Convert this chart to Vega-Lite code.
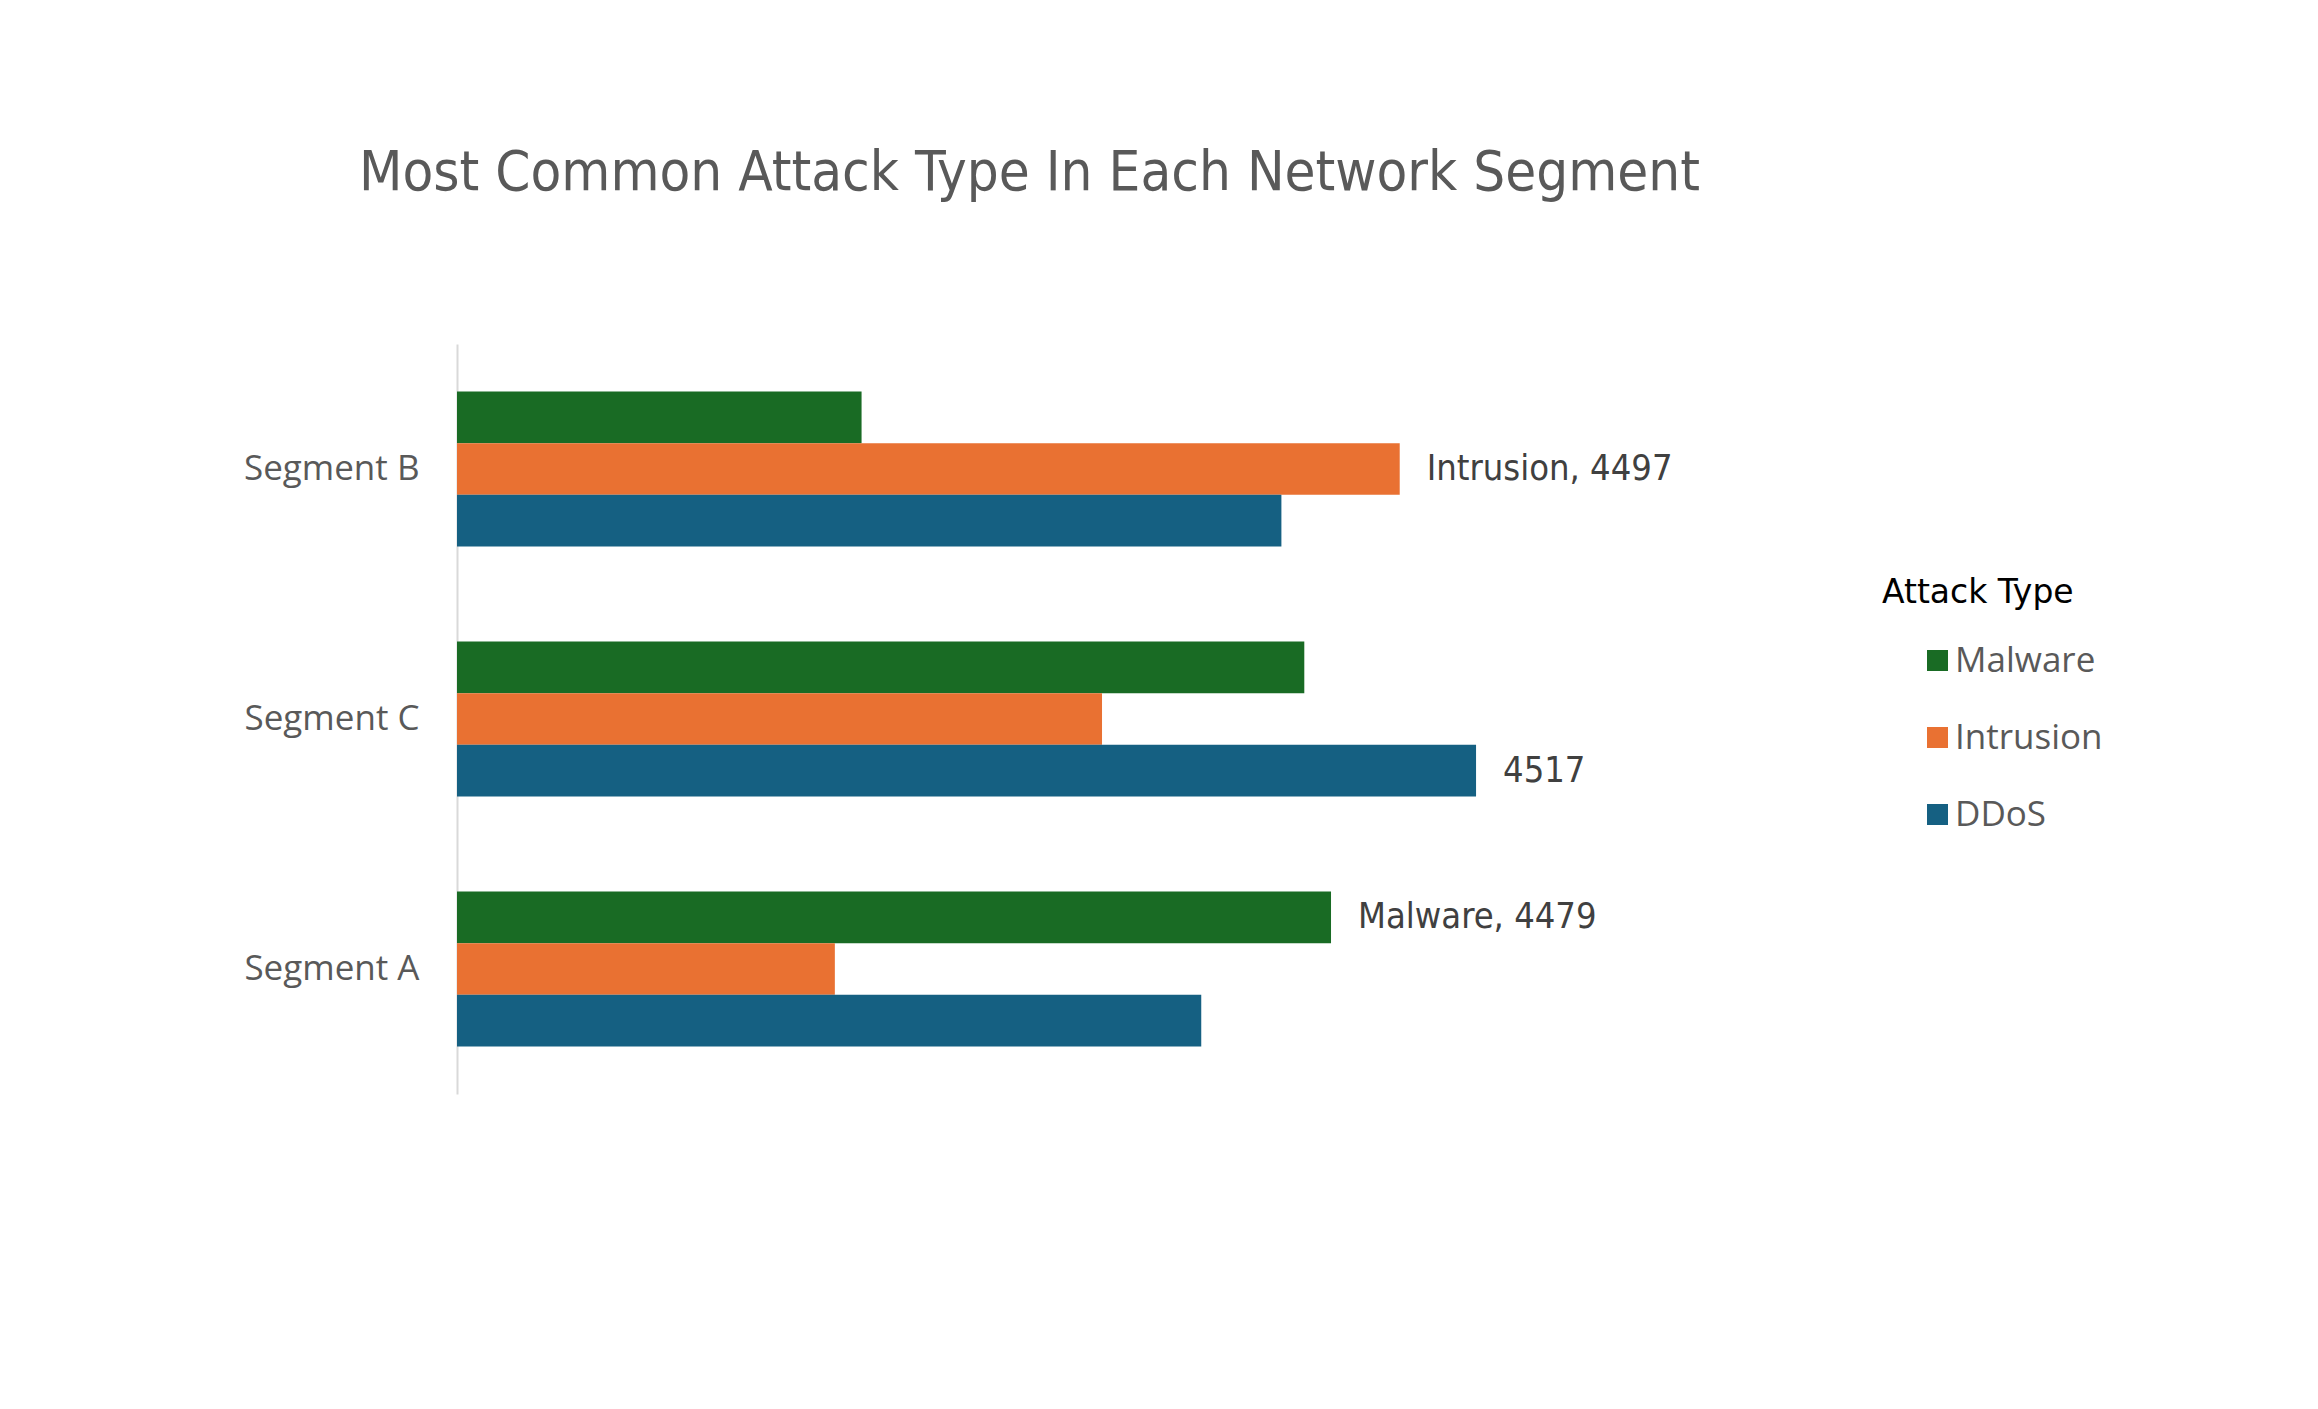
{
  "$schema": "https://vega.github.io/schema/vega-lite/v6.json",
  "autosize": {"type": "none"},
  "width": 1145,
  "height": 750,
  "padding": {"left": 457, "top": 344, "right": 716, "bottom": 315},
  "background": "#ffffff",
  "config": {"view": {"stroke": null}},
  "title": {
    "text": "Most Common Attack Type In Each Network Segment",
    "anchor": "middle",
    "font": "DejaVu Sans Condensed, Roboto, sans-serif",
    "fontSize": 56,
    "fontWeight": "normal",
    "color": "#595959",
    "offset": 142
  },
  "data": {
    "values": [
      {"Segment": "Segment B", "Attack Type": "Malware", "Count": 4356, "label": ""},
      {"Segment": "Segment B", "Attack Type": "Intrusion", "Count": 4497, "label": "Intrusion, 4497"},
      {"Segment": "Segment B", "Attack Type": "DDoS", "Count": 4466, "label": ""},
      {"Segment": "Segment C", "Attack Type": "Malware", "Count": 4472, "label": ""},
      {"Segment": "Segment C", "Attack Type": "Intrusion", "Count": 4419, "label": ""},
      {"Segment": "Segment C", "Attack Type": "DDoS", "Count": 4517, "label": "4517"},
      {"Segment": "Segment A", "Attack Type": "Malware", "Count": 4479, "label": "Malware, 4479"},
      {"Segment": "Segment A", "Attack Type": "Intrusion", "Count": 4349, "label": ""},
      {"Segment": "Segment A", "Attack Type": "DDoS", "Count": 4445, "label": ""}
    ]
  },
  "encoding": {
    "y": {
      "field": "Segment",
      "type": "nominal",
      "sort": ["Segment B", "Segment C", "Segment A"],
      "scale": {"paddingInner": 0.38, "paddingOuter": 0.19},
      "axis": {
        "title": null,
        "ticks": false,
        "domainColor": "#d9d9d9",
        "domainWidth": 2,
        "labelFont": "Open Sans",
        "labelFontSize": 35,
        "labelColor": "#595959",
        "labelPadding": 38
      }
    },
    "yOffset": {
      "field": "Attack Type",
      "type": "nominal",
      "sort": ["Malware", "Intrusion", "DDoS"],
      "scale": {"paddingInner": 0, "paddingOuter": 0}
    },
    "x": {
      "field": "Count",
      "type": "quantitative",
      "scale": {"domain": [4250, 4550], "zero": false, "nice": false, "clamp": true},
      "axis": null
    }
  },
  "layer": [
    {
      "mark": {"type": "bar"},
      "encoding": {
        "color": {
          "field": "Attack Type",
          "type": "nominal",
          "scale": {"domain": ["Malware", "Intrusion", "DDoS"], "range": ["#196B24", "#E97132", "#156082"]},
          "legend": {
            "orient": "none",
            "legendX": 1425,
            "legendY": 233,
            "title": "Attack Type",
            "titleFont": "DejaVu Sans",
            "titleFontSize": 33,
            "titleFontWeight": "normal",
            "titleColor": "#000000",
            "titleLimit": 600,
            "titlePadding": 33,
            "symbolType": "square",
            "symbolSize": 441,
            "symbolStrokeWidth": 0,
            "symbolOffset": 38,
            "labelOffset": 0,
            "labelFont": "Open Sans",
            "labelFontSize": 35,
            "labelColor": "#595959",
            "rowPadding": 41
          }
        }
      }
    },
    {
      "mark": {"type": "text", "align": "left", "baseline": "middle", "dx": 27, "font": "DejaVu Sans Condensed, Roboto, sans-serif", "fontSize": 36, "color": "#404040"},
      "encoding": {
        "text": {"field": "label"}
      }
    }
  ]
}
